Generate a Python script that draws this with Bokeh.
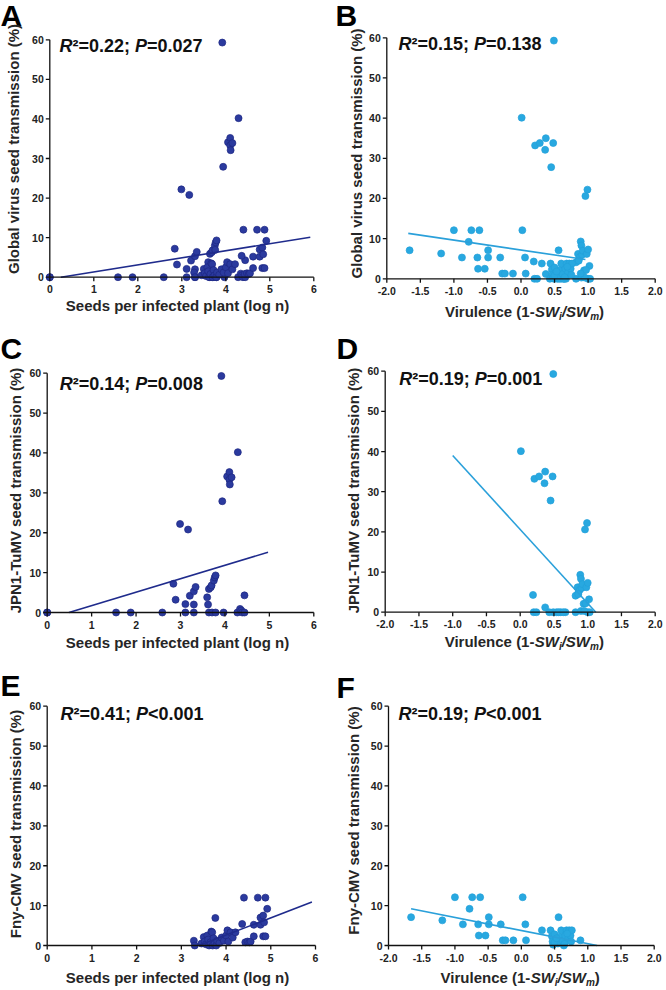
import math
from bokeh.plotting import figure
from bokeh.models import Range1d
from bokeh.core.properties import value
from bokeh.layouts import column, row
from bokeh.embed import file_html
from bokeh.resources import INLINE

# ---------------- data ----------------
# C: JPN1-TuMV seed transmission vs seeds per infected plant (log n)
c_seeds = [0.00, 0.00, 1.55, 1.88, 2.59, 2.84, 2.89, 2.99, 3.11, 3.11, 3.17, 3.21, 3.30, 3.30,
           3.30, 3.34, 3.60, 3.62, 3.64, 3.64, 3.68, 3.70, 3.71, 3.75, 3.77, 3.79, 3.79, 3.92,
           3.94, 3.97, 4.05, 4.10, 4.10, 4.11, 4.15, 4.28, 4.29, 4.34, 4.37, 4.39, 4.44, 4.44]
c_trans = [0.0, 0.0, 0.0, 0.0, 0.0, 7.2, 3.2, 22.2, 2.1, 0.0, 20.8, 4.2, 2.0, 0.0,
           5.3, 6.4, 3.8, 2.0, 5.9, 0.0, 6.3, 6.8, 0.0, 8.0, 8.8, 9.3, 0.0, 59.3,
           27.9, 0.0, 34.1, 35.2, 33.3, 32.1, 33.9, 0.0, 40.2, 0.9, 0.5, 0.0, 4.3, 0.0]
# E: Fny-CMV seed transmission vs seeds per infected plant (log n)
e_seeds = [3.28, 3.30, 3.45, 3.50, 3.52, 3.55, 3.58, 3.60, 3.62, 3.65, 3.67, 3.69, 3.70, 3.72,
           3.74, 3.76, 3.78, 3.80, 3.85, 3.90, 3.95, 4.00, 4.03, 4.05, 4.10, 4.15, 4.21, 4.36,
           4.40, 4.43, 4.48, 4.52, 4.55, 4.62, 4.62, 4.71, 4.77, 4.77, 4.83, 4.83, 4.85, 4.88,
           4.88, 4.92]
e_trans = [1.2, 0.0, 0.5, 2.1, 1.0, 0.3, 2.5, 1.5, 0.0, 0.8, 3.5, 3.3, 0.0, 1.8,
           0.4, 6.9, 0.0, 1.2, 0.6, 2.0, 1.2, 2.5, 3.8, 1.0, 3.3, 2.0, 3.3, 5.4,
           12.0, 0.8, 1.0, 0.8, 1.0, 5.2, 2.3, 12.0, 7.0, 5.2, 7.5, 2.3, 5.8, 12.0,
           2.3, 9.2]
# D: JPN1-TuMV seed transmission vs virulence
d_vir = [0.01, 0.19, 0.20, 0.24, 0.21, 0.28, 0.36, 0.37, 0.37, 0.45, 0.48, 0.49, 0.49, 0.54,
         0.60, 0.67, 0.82, 0.82, 0.85, 0.86, 0.88, 0.89, 0.90, 0.91, 0.92, 0.94, 0.96, 0.98,
         0.99, 1.00, 1.00, 1.02, 0.97, 1.03, 0.86, 0.43, 0.57, 0.64, 0.90, 0.95]
d_trans = [40.1, 4.3, 0.0, 0.0, 33.2, 33.8, 32.1, 35.0, 1.2, 27.8, 33.8, 59.3, 0.0, 0.0,
           0.0, 0.0, 4.1, 0.0, 6.2, 4.8, 5.5, 9.3, 8.3, 6.0, 7.0, 2.1, 20.6, 6.2,
           22.2, 7.3, 0.0, 3.2, 2.2, 0.0, 4.5, 0.0, 0.0, 0.0, 0.3, 0.3]
# F: Fny-CMV seed transmission vs virulence
f_vir = [-1.66, -1.19, -1.00, -0.88, -0.78, -0.74, -0.65, -0.64, -0.62, -0.54,
         -0.49, -0.49, -0.31, -0.28, -0.24, -0.12, 0.02, 0.06, 0.07, 0.31,
         0.44, 0.46, 0.47, 0.48, 0.50, 0.52, 0.55, 0.56, 0.58, 0.60,
         0.62, 0.64, 0.66, 0.68, 0.70, 0.72, 0.74, 0.76, 0.89, 0.50,
         0.53, 0.65, 0.69, 0.75]
f_trans = [7.1, 6.3, 12.1, 5.3, 9.2, 12.1, 5.3, 2.5, 12.1, 2.5,
           7.1, 5.3, 5.3, 1.3, 1.3, 1.3, 12.1, 5.3, 1.3, 3.8,
           3.8, 2.3, 1.0, 0.2, 2.8, 1.5, 0.5, 7.1, 2.2, 3.8,
           1.2, 0.0, 2.5, 3.8, 1.5, 3.8, 2.5, 3.8, 1.3, 0.8,
           1.8, 0.4, 3.0, 1.0]
# A and B: global = both viruses together
a_seeds = c_seeds + e_seeds
a_trans = c_trans + e_trans
b_vir = d_vir + f_vir
b_trans = d_trans + f_trans

# regression lines (end points)
fit_a_x, fit_a_y = [0.25, 5.92], [0.0, 10.1]
fit_b_x, fit_b_y = [-1.68, 0.96], [11.3, 4.8]
fit_c_x, fit_c_y = [0.49, 4.97], [0.0, 15.1]
fit_d_x, fit_d_y = [-1.0, 1.12], [39.0, 0.0]
fit_e_x, fit_e_y = [3.39, 5.92], [0.0, 10.9]
fit_f_x, fit_f_y = [-1.66, 1.14], [9.2, 0.0]

y_ticks = [0, 10, 20, 30, 40, 50, 60]
y_tick_labels = ["0", "10", "20", "30", "40", "50", "60"]
seed_ticks = [0, 1, 2, 3, 4, 5, 6]
seed_tick_labels = ["0", "1", "2", "3", "4", "5", "6"]
vir_ticks = [-2.0, -1.5, -1.0, -0.5, 0.0, 0.5, 1.0, 1.5, 2.0]
vir_tick_labels = ["-2.0", "-1.5", "-1.0", "-0.5", "0.0", "0.5", "1.0", "1.5", "2.0"]

panel_letters = ["A", "B", "C", "D", "E", "F"]
r2_values = ["0.22", "0.15", "0.14", "0.19", "0.41", "0.19"]
p_values = ["=0.027", "=0.138", "=0.008", "=0.001", "<0.001", "<0.001"]
y_titles = ["Global virus seed transmission (%)", "Global virus seed transmission (%)",
            "JPN1-TuMV seed transmission (%)", "JPN1-TuMV seed transmission (%)",
            "Fny-CMV seed transmission (%)", "Fny-CMV seed transmission (%)"]
seed_title = "Seeds per infected plant (log n)"
vir_title_parts = ["Virulence (1-", "SW", "i", "/SW", "m", ")"]

# ---------------- style ----------------
FONT = "Liberation Sans"
DARK_FILL, DARK_EDGE, DARK_LINE = "#2B3A9E", "#1C2782", "#1F2B8C"
LIGHT_FILL, LIGHT_EDGE, LIGHT_LINE = "#28A8E0", "#22A0DA", "#2AA0DA"
AXIS_COL = "#111111"

# Arial/Liberation Sans Bold advance widths (per 1000 em)
W = {" ": 278, "(": 333, ")": 333, "%": 889, "-": 333, ".": 278, "/": 278, ";": 333,
     "<": 584, "=": 584, "\u00b2": 333, "R": 722, "P": 667, "S": 667, "W": 944, "V": 667,
     "i": 278, "r": 389, "u": 611, "l": 278, "e": 556, "n": 611, "c": 556, "m": 889}
for _d in "0123456789":
    W[_d] = 556


def tw(s, size):
    return sum(W.get(ch, 556) for ch in s) * size / 1000.0


def add_text(p, px, py, text, size, style="bold", color="#111111", align="left",
             baseline="alphabetic", angle=0.0):
    """Place a text at a pixel position of the (full-canvas) frame.
    An 'alphabetic' position is converted to a 'middle' anchor (0.35 em above)."""
    if baseline == "alphabetic":
        py = py - 0.35 * size
        baseline = "middle"
    xr, yr = p.x_range, p.y_range
    dx = xr.start + px * (xr.end - xr.start) / p.width
    dy = yr.end - py * (yr.end - yr.start) / p.height
    p.text(x=[dx], y=[dy], text=[text], text_font=value(FONT),
           text_font_size=value(f"{size}px"), text_font_style=value(style),
           text_color=color, text_align=align, text_baseline=baseline, angle=angle)


def build(i, spec):
    fw, fh = spec["size"]
    xt, xl = spec["xticks"], spec["xlabels"]
    xlo_px, xhi_px = spec["xpx"]
    y0_px, y60_px = spec["ypx"]
    sx = (xhi_px - xlo_px) / (xt[-1] - xt[0])
    sy = (y0_px - y60_px) / (y_ticks[-1] - y_ticks[0])
    xr = Range1d(xt[0] - xlo_px / sx, xt[-1] + (fw - xhi_px) / sx)
    yr = Range1d(y_ticks[0] - (fh - y0_px) / sy, y_ticks[-1] + y60_px / sy)
    p = figure(width=fw, height=fh, output_backend="svg", toolbar_location=None,
               x_range=xr, y_range=yr, x_axis_type=None, y_axis_type=None,
               min_border_left=0, min_border_right=0, min_border_top=0, min_border_bottom=0,
               background_fill_color="white", border_fill_color="white",
               outline_line_color=None)
    p.grid.visible = False

    # data
    p.scatter(spec["x"], spec["y"], size=7, fill_color=spec["fill"],
              line_color=spec["edge"], line_width=0.7)
    p.line(spec["fit_x"], spec["fit_y"], line_color=spec["line"], line_width=1.6)

    # axes (drawn in data space from the tick lists)
    x_base = [y_ticks[0]] * len(xt)
    y_base = [xt[0]] * len(y_ticks)
    p.line([xt[0], xt[-1]], [y_ticks[0], y_ticks[0]], line_color=AXIS_COL, line_width=1.3)
    p.line([xt[0], xt[0]], [y_ticks[0], y_ticks[-1]], line_color=AXIS_COL, line_width=1.3)
    p.ray(x=xt, y=x_base, length=4, length_units="screen", angle=-math.pi / 2,
          line_color=AXIS_COL, line_width=1.3)
    p.ray(x=y_base, y=y_ticks, length=4, length_units="screen", angle=math.pi,
          line_color=AXIS_COL, line_width=1.3)
    p.text(x=xt, y=x_base, text=xl, y_offset=12, text_align="center", text_baseline="middle",
           text_font=value(FONT), text_font_size=value("10.5px"),
           text_font_style=value("bold"), text_color="#222222")
    p.text(x=y_base, y=y_ticks, text=y_tick_labels, x_offset=-6, text_align="right",
           text_baseline="middle", text_font=value(FONT), text_font_size=value("10.5px"),
           text_font_style=value("bold"), text_color="#222222")

    # panel letter
    lx, ly = spec["letter"]
    add_text(p, lx, ly, panel_letters[i], 30, color="#000000")
    # R2 / P annotation
    ax_, ay_ = spec["ann"]
    pieces = [("R", "bold italic"), ("\u00b2=" + r2_values[i] + "; ", "bold"),
              ("P", "bold italic"), (p_values[i], "bold")]
    for txt, st in pieces:
        add_text(p, ax_, ay_, txt, 18, style=st, color="#111111")
        ax_ += tw(txt, 18)
    # y title
    yx, yy = spec["ytitle"]
    add_text(p, yx, yy, y_titles[i], 15, color="#262626", align="center",
             baseline="middle", angle=math.pi / 2)
    # x title
    tx, ty = spec["xtitle"]
    if spec["kind"] == "seed":
        add_text(p, tx, ty, seed_title, 15, color="#262626", align="center")
    else:
        parts = [(vir_title_parts[0], 15, "bold", 0), (vir_title_parts[1], 15, "bold italic", 0),
                 (vir_title_parts[2], 10, "bold italic", 3.5), (vir_title_parts[3], 15, "bold italic", 0),
                 (vir_title_parts[4], 10, "bold italic", 3.5), (vir_title_parts[5], 15, "bold", 0)]
        total = sum(tw(t, s) for t, s, _, _ in parts)
        x = tx - total / 2
        for t, s, st, dy in parts:
            add_text(p, x, ty + dy, t, s, style=st, color="#262626")
            x += tw(t, s)
    return p


specs = [
    dict(kind="seed", size=(333, 330), xticks=seed_ticks, xlabels=seed_tick_labels,
         xpx=(49.3, 313.3), ypx=(276.7, 39.3),
         x=a_seeds, y=a_trans, fit_x=fit_a_x, fit_y=fit_a_y,
         fill=DARK_FILL, edge=DARK_EDGE, line=DARK_LINE,
         letter=(0, 25), ann=(59, 52), ytitle=(13, 148.5), xtitle=(177, 310.5)),
    dict(kind="vir", size=(332, 330), xticks=vir_ticks, xlabels=vir_tick_labels,
         xpx=(53.3, 321.7), ypx=(278.3, 37.3),
         x=b_vir, y=b_trans, fit_x=fit_b_x, fit_y=fit_b_y,
         fill=LIGHT_FILL, edge=LIGHT_EDGE, line=LIGHT_LINE,
         letter=(2, 25), ann=(65, 50), ytitle=(23.3, 153), xtitle=(191, 316)),
    dict(kind="seed", size=(333, 330), xticks=seed_ticks, xlabels=seed_tick_labels,
         xpx=(46.7, 313.3), ypx=(282, 42.7),
         x=c_seeds, y=c_trans, fit_x=fit_c_x, fit_y=fit_c_y,
         fill=DARK_FILL, edge=DARK_EDGE, line=DARK_LINE,
         letter=(0, 28), ann=(59.3, 60), ytitle=(15, 160), xtitle=(177, 317)),
    dict(kind="vir", size=(332, 330), xticks=vir_ticks, xlabels=vir_tick_labels,
         xpx=(51.7, 321.7), ypx=(281.7, 40.7),
         x=d_vir, y=d_trans, fit_x=fit_d_x, fit_y=fit_d_y,
         fill=LIGHT_FILL, edge=LIGHT_EDGE, line=LIGHT_LINE,
         letter=(3, 28), ann=(65.7, 55), ytitle=(20, 160), xtitle=(190.8, 316)),
    dict(kind="seed", size=(333, 329), xticks=seed_ticks, xlabels=seed_tick_labels,
         xpx=(46.7, 315), ypx=(285, 45.7),
         x=e_seeds, y=e_trans, fit_x=fit_e_x, fit_y=fit_e_y,
         fill=DARK_FILL, edge=DARK_EDGE, line=DARK_LINE,
         letter=(0, 35), ann=(60, 60), ytitle=(15, 163.5), xtitle=(177, 322)),
    dict(kind="vir", size=(332, 329), xticks=vir_ticks, xlabels=vir_tick_labels,
         xpx=(55, 320.7), ypx=(285, 45.7),
         x=f_vir, y=f_trans, fit_x=fit_f_x, fit_y=fit_f_y,
         fill=LIGHT_FILL, edge=LIGHT_EDGE, line=LIGHT_LINE,
         letter=(3, 37), ann=(65, 60), ytitle=(20, 160), xtitle=(186.7, 322)),
]

figs = [build(i, s) for i, s in enumerate(specs)]
layout = column(row(figs[0], figs[1]), row(figs[2], figs[3]), row(figs[4], figs[5]))

with open("out.html", "w") as fh:
    fh.write(file_html(layout, INLINE))
